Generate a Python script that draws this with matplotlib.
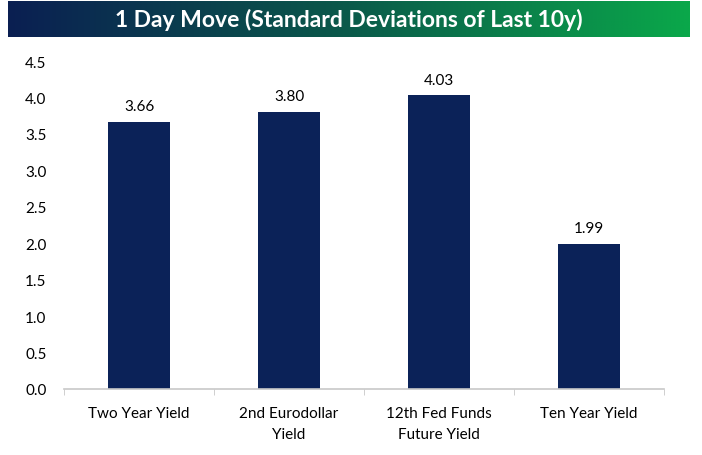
import matplotlib
matplotlib.use("Agg")
import matplotlib.pyplot as plt
import numpy as np
from matplotlib.colors import LinearSegmentedColormap

categories = ["Two Year Yield", "2nd Eurodollar\nYield", "12th Fed Funds\nFuture Yield", "Ten Year Yield"]
values = [3.66, 3.80, 4.03, 1.99]
value_labels = ["3.66", "3.80", "4.03", "1.99"]
yticks = [0.0, 0.5, 1.0, 1.5, 2.0, 2.5, 3.0, 3.5, 4.0, 4.5]
title = "1 Day Move (Standard Deviations of Last 10y)"

plt.rcParams['font.family'] = ['Lato', 'DejaVu Sans']

W, H = 702, 456
fig = plt.figure(figsize=(W/100, H/100), dpi=100)

# title bar
tax = fig.add_axes([8/W, 1 - 38/H, 682/W, 36/H])
cmap = LinearSegmentedColormap.from_list("g", ["#0b1f52", "#0a5a4a", "#0aa84a"])
grad = np.linspace(0, 1, 256).reshape(1, -1)
tax.imshow(grad, aspect='auto', cmap=cmap, extent=[0, 1, 0, 1])
tax.set_axis_off()
tax.text(0.5, 0.5, title, color='white', fontsize=16.5, fontweight='bold',
         ha='center', va='center', transform=tax.transAxes)

ax = fig.add_axes([64/W, 1 - 390/H, 600/W, (390 - 62)/H])
x = np.arange(len(categories))
ax.bar(x, values, width=0.41, color="#0b2258")
for xi, v, lab in zip(x, values, value_labels):
    ax.text(xi, v + 0.12, lab, ha='center', va='bottom', fontsize=11, color='black')

ax.set_xlim(-0.5, len(categories) - 0.5)
ax.set_ylim(0, 4.5)
ax.set_yticks(yticks)
ax.set_yticklabels([f"{t:.1f}" for t in yticks], fontsize=11)
ax.set_xticks(x)
ax.set_xticklabels(categories, fontsize=11, linespacing=1.7)
ax.tick_params(axis='y', length=0, pad=28)
ax.tick_params(axis='x', length=0, pad=12)
# category boundary ticks
ax.set_xticks(np.arange(-0.5, len(categories)), minor=True)
ax.tick_params(axis='x', which='minor', length=4, color='#c8c8c8', direction='out')
for s in ['top', 'right', 'left']:
    ax.spines[s].set_visible(False)
ax.spines['bottom'].set_color('#c8c8c8')
ax.spines['bottom'].set_linewidth(1.2)
for lbl in ax.get_yticklabels():
    lbl.set_horizontalalignment('left')

fig.savefig("out.png", dpi=100)
